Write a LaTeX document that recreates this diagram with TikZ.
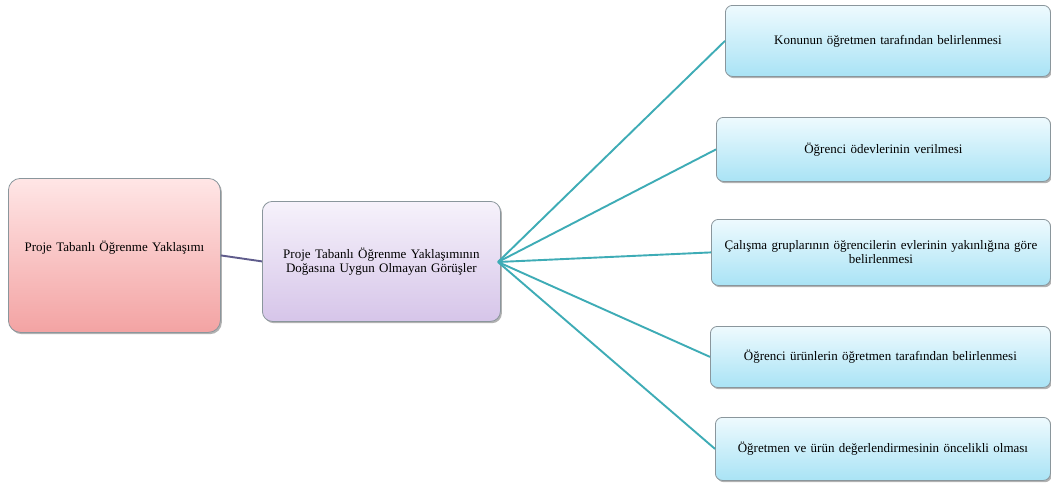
\documentclass[tikz,border=0pt]{standalone}
\usepackage{fontspec}
\setmainfont{Liberation Serif}
\usetikzlibrary{shadows}
\definecolor{redtop}{HTML}{FFE6E6}
\definecolor{redbot}{HTML}{F3A3A3}
\definecolor{purtop}{HTML}{F6F2FB}
\definecolor{purbot}{HTML}{D6C5E9}
\definecolor{blutop}{HTML}{EEFAFE}
\definecolor{blubot}{HTML}{A9E3F5}
\definecolor{edgegray}{HTML}{8A969C}
\definecolor{tealline}{HTML}{3EACB6}
\definecolor{slateline}{HTML}{5F5C8C}
\tikzset{
  card/.style={draw=edgegray, line width=0.8pt, anchor=north west,
    align=center, font=\fontsize{13}{14}\selectfont, inner sep=2pt,
    drop shadow={shadow xshift=1.5pt, shadow yshift=-1.8pt, fill=black!50, opacity=0.6}},
  rootbox/.style={card, rounded corners=12pt, top color=redtop, bottom color=redbot},
  midbox/.style={card, rounded corners=10pt, top color=purtop, bottom color=purbot},
  leafbox/.style={card, rounded corners=7pt, top color=blutop, bottom color=blubot},
  teal/.style={draw=tealline, line width=1.9pt},
  slate/.style={draw=slateline, line width=1.9pt}
}
\begin{document}
\begin{tikzpicture}[x=1pt,y=-1pt]
\useasboundingbox[fill=white] (0,0) rectangle (1051,482);
% root and middle nodes (root label sits a little above the box centre)
\node[rootbox, minimum width=212pt, minimum height=154pt, text width=205pt] (root) at (8,178)
  {Proje Tabanlı Öğrenme Yaklaşımı\\ \strut};
\node[midbox, minimum width=238pt, minimum height=120pt, text width=230pt] (mid) at (262,201)
  {Proje Tabanlı Öğrenme Yaklaşımının\\Doğasına Uygun Olmayan Görüşler};
% leaf nodes
\node[leafbox, minimum width=325pt, minimum height=71pt, text width=315pt] (l1) at (725,5)
  {Konunun öğretmen tarafından belirlenmesi};
\node[leafbox, minimum width=334pt, minimum height=64pt, text width=320pt] (l2) at (716,117)
  {Öğrenci ödevlerinin verilmesi};
\node[leafbox, minimum width=339pt, minimum height=66pt, text width=332pt] (l3) at (711,219)
  {Çalışma gruplarının öğrencilerin evlerinin yakınlığına göre\\belirlenmesi};
\node[leafbox, minimum width=340pt, minimum height=61pt, text width=330pt] (l4) at (710,326)
  {Öğrenci ürünlerin öğretmen tarafından belirlenmesi};
\node[leafbox, minimum width=335pt, minimum height=63pt, text width=325pt] (l5) at (715,417)
  {Öğretmen ve ürün değerlendirmesinin öncelikli olması};
% connectors
\coordinate (hub) at (498,262);
\draw[slate] (root.east) -- (mid.west);
\foreach \n in {l1,l2,l3,l4,l5} {
  \draw[teal] (hub) -- (\n.west);
}
\end{tikzpicture}
\end{document}
